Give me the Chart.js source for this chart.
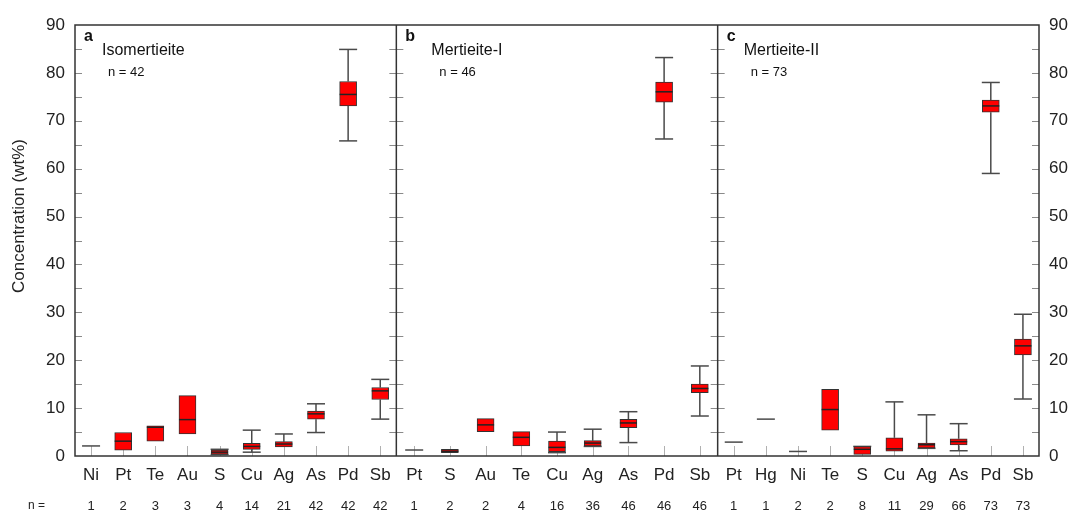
<!DOCTYPE html>
<html>
<head>
<meta charset="utf-8">
<script src="https://cdn.jsdelivr.net/npm/chart.js@4/dist/chart.umd.min.js"></script>
<style>
  html, body { margin: 0; background: #fff; }
  #wrap { width: 1073px; height: 512px; }
</style>
</head>
<body>
<div id="wrap"><canvas id="chart"></canvas></div>
<script>
// panel a - Isomertieite
var catsA = ['Ni', 'Pt', 'Te', 'Au', 'S', 'Cu', 'Ag', 'As', 'Pd', 'Sb'];
var nA    = [1, 2, 3, 3, 4, 14, 21, 42, 42, 42];
var minA  = [2.1, 1.2, 3.1, 4.6, 0.3, 0.8, 1.9, 4.9, 65.8, 7.7];
var q1A   = [2.1, 1.2, 3.1, 4.6, 0.4, 1.4, 1.9, 7.7, 73.1, 11.8];
var medA  = [2.1, 3.1, 6.0, 7.6, 0.8, 2.0, 2.5, 8.8, 75.5, 13.6];
var q3A   = [2.1, 4.9, 6.3, 12.6, 1.25, 2.65, 3.0, 9.4, 78.2, 14.3];
var maxA  = [2.1, 4.9, 6.3, 12.6, 1.4, 5.4, 4.6, 10.9, 84.9, 16.0];

// panel b - Mertieite-I
var catsB = ['Pt', 'S', 'Au', 'Te', 'Cu', 'Ag', 'As', 'Pd', 'Sb'];
var nB    = [1, 2, 2, 4, 16, 36, 46, 46, 46];
var minB  = [1.25, 0.7, 5.1, 2.1, 0.7, 2.0, 2.8, 66.2, 8.35];
var q1B   = [1.25, 0.7, 5.1, 2.1, 0.9, 2.1, 5.9, 73.9, 13.2];
var medB  = [1.25, 1.0, 6.5, 3.9, 1.8, 2.7, 6.9, 76.05, 14.1];
var q3B   = [1.25, 1.4, 7.8, 5.1, 3.1, 3.2, 7.65, 78.1, 15.0];
var maxB  = [1.25, 1.4, 7.8, 5.1, 5.0, 5.6, 9.25, 83.2, 18.8];

// panel c - Mertieite-II
var catsC = ['Pt', 'Hg', 'Ni', 'Te', 'S', 'Cu', 'Ag', 'As', 'Pd', 'Sb'];
var nC    = [1, 1, 2, 2, 8, 11, 29, 66, 73, 73];
var minC  = [2.9, 7.7, 0.95, 5.4, 0.35, 1.0, 1.6, 1.1, 59.0, 11.9];
var q1C   = [2.9, 7.7, 0.95, 5.4, 0.35, 1.0, 1.7, 2.3, 71.8, 21.1];
var medC  = [2.9, 7.7, 0.95, 9.7, 1.4, 1.5, 2.35, 3.0, 73.1, 23.0];
var q3C   = [2.9, 7.7, 0.95, 13.9, 1.95, 3.8, 2.7, 3.6, 74.3, 24.4];
var maxC  = [2.9, 7.7, 0.95, 13.9, 2.0, 11.3, 8.6, 6.75, 78.0, 29.6];

var panelLetters = ['a', 'b', 'c'];
var panelNames = ['Isomertieite', 'Mertieite-I', 'Mertieite-II'];
var panelTotals = [42, 46, 73];
var yTicks = [0, 10, 20, 30, 40, 50, 60, 70, 80, 90];

var panels = [
  {cats: catsA, n: nA, min: minA, q1: q1A, med: medA, q3: q3A, max: maxA},
  {cats: catsB, n: nB, min: minB, q1: q1B, med: medB, q3: q3B, max: maxB},
  {cats: catsC, n: nC, min: minC, q1: q1C, med: medC, q3: q3C, max: maxC}
];

// each panel spans one unit of the x axis
var stats = [];
panels.forEach(function(p, pi) {
  p.cats.forEach(function(c, i) {
    stats.push({
      x: pi + (i + 0.5) / p.cats.length,
      cat: c, n: p.n[i],
      min: p.min[i], q1: p.q1[i], med: p.med[i], q3: p.q3[i], max: p.max[i]
    });
  });
});
var xPos = stats.map(function(s) { return s.x; });

var boxData = stats.filter(function(s) { return s.q3 > s.q1; })
  .map(function(s) { return {x: s.x, y: [s.q1, s.q3]}; });

var FONT = "'Liberation Sans', Arial, sans-serif";
Chart.defaults.font.family = FONT;
Chart.defaults.color = '#222';

function hline(ctx, x1, x2, y) {
  ctx.beginPath(); ctx.moveTo(x1, y); ctx.lineTo(x2, y); ctx.stroke();
}
function vline(ctx, x, y1, y2) {
  ctx.beginPath(); ctx.moveTo(x, y1); ctx.lineTo(x, y2); ctx.stroke();
}

var boxExtras = {
  id: 'boxExtras',
  beforeDatasetsDraw: function(chart) {
    var ctx = chart.ctx, a = chart.chartArea;
    var x = chart.scales.x, y = chart.scales.y;
    ctx.save();
    // minor ticks every 5 on the frame and the panel dividers
    ctx.strokeStyle = '#8a8a8a';
    ctx.lineWidth = 1;
    for (var v = 5; v < 90; v += 5) {
      var py = Math.round(y.getPixelForValue(v)) + 0.5;
      hline(ctx, a.left, a.left + 7, py);
      hline(ctx, a.right - 7, a.right, py);
      [1, 2].forEach(function(d) {
        var px = x.getPixelForValue(d);
        hline(ctx, px - 7, px + 7, py);
      });
    }
    // category ticks
    ctx.strokeStyle = '#b0b0b0';
    stats.forEach(function(s) {
      var px = Math.round(x.getPixelForValue(s.x)) + 0.5;
      vline(ctx, px, a.bottom, a.bottom - 10);
    });
    // whiskers
    ctx.strokeStyle = '#4a4a4a';
    ctx.lineWidth = 1.5;
    stats.forEach(function(s) {
      var px = x.getPixelForValue(s.x);
      if (s.max > s.q3) {
        vline(ctx, px, y.getPixelForValue(s.q3), y.getPixelForValue(s.max));
        hline(ctx, px - 9, px + 9, y.getPixelForValue(s.max));
      }
      if (s.min < s.q1) {
        vline(ctx, px, y.getPixelForValue(s.q1), y.getPixelForValue(s.min));
        hline(ctx, px - 9, px + 9, y.getPixelForValue(s.min));
      }
      if (s.min === s.max) {
        hline(ctx, px - 9, px + 9, y.getPixelForValue(s.med));
      }
    });
    ctx.restore();
  },
  afterDatasetsDraw: function(chart) {
    var ctx = chart.ctx, a = chart.chartArea;
    var x = chart.scales.x, y = chart.scales.y;
    ctx.save();
    // medians
    ctx.strokeStyle = '#222';
    ctx.lineWidth = 1.5;
    stats.forEach(function(s) {
      if (s.q3 > s.q1) {
        var px = x.getPixelForValue(s.x);
        hline(ctx, px - 8.5, px + 8.5, y.getPixelForValue(s.med));
      }
    });
    // frame and dividers
    ctx.strokeStyle = '#333';
    ctx.lineWidth = 1.5;
    ctx.strokeRect(a.left, a.top, a.right - a.left, a.bottom - a.top);
    [1, 2].forEach(function(d) {
      vline(ctx, x.getPixelForValue(d), a.top, a.bottom);
    });
    // panel labels
    var titleOff = [27, 35, 26], nOff = [33, 43, 33];
    ctx.fillStyle = '#111';
    ctx.textBaseline = 'middle';
    ctx.textAlign = 'left';
    panelLetters.forEach(function(l, i) {
      var left = x.getPixelForValue(i);
      ctx.font = 'bold 16px ' + FONT;
      ctx.fillText(l, left + 9, 37);
      ctx.font = '16px ' + FONT;
      ctx.fillText(panelNames[i], left + titleOff[i], 51);
      ctx.font = '13px ' + FONT;
      ctx.fillText('n = ' + panelTotals[i], left + nOff[i], 72);
    });
    // y title and the n row label
    ctx.fillStyle = '#222';
    ctx.font = '17px ' + FONT;
    ctx.save();
    ctx.translate(19, 216);
    ctx.rotate(-Math.PI / 2);
    ctx.textAlign = 'center';
    ctx.fillText('Concentration (wt%)', 0, 0);
    ctx.restore();
    ctx.font = '12px ' + FONT;
    ctx.textAlign = 'left';
    ctx.fillText('n =', 28, 506);
    ctx.restore();
  }
};

function setXTicks(scale) {
  scale.ticks = xPos.map(function(v) { return {value: v}; });
}

new Chart(document.getElementById('chart'), {
  type: 'bar',
  data: {
    datasets: [{
      data: boxData,
      backgroundColor: '#ff0000',
      borderColor: '#333',
      borderWidth: 1,
      borderSkipped: false,
      barThickness: 17,
      grouped: false
    }]
  },
  options: {
    responsive: true,
    maintainAspectRatio: false,
    animation: false,
    layout: {padding: {top: 25, left: 0, right: 0, bottom: 0}},
    plugins: {legend: {display: false}, tooltip: {enabled: false}},
    scales: {
      x: {
        type: 'linear', position: 'bottom', min: 0, max: 3, offset: false, weight: 0,
        grid: {display: false, drawTicks: false},
        border: {display: false},
        afterBuildTicks: setXTicks,
        afterFit: function(s) { s.height = 30; },
        ticks: {
          autoSkip: false, maxRotation: 0, padding: 9,
          font: {size: 17}, color: '#222',
          callback: function(v, i) { return stats[i] ? stats[i].cat : ''; }
        }
      },
      x2: {
        type: 'linear', position: 'bottom', min: 0, max: 3, offset: false, weight: 1,
        grid: {display: false, drawTicks: false},
        border: {display: false},
        afterBuildTicks: setXTicks,
        afterFit: function(s) { s.height = 26; },
        ticks: {
          autoSkip: false, maxRotation: 0, padding: 13,
          font: {size: 13}, color: '#222',
          callback: function(v, i) { return stats[i] ? String(stats[i].n) : ''; }
        }
      },
      y: {
        position: 'left', min: 0, max: 90,
        grid: {display: false, drawTicks: false},
        border: {display: false},
        afterBuildTicks: function(s) { s.ticks = yTicks.map(function(v) { return {value: v}; }); },
        afterFit: function(s) { s.width = 75; },
        ticks: {padding: 10, font: {size: 17}, color: '#222'}
      },
      y2: {
        position: 'right', min: 0, max: 90,
        grid: {display: false, drawTicks: false},
        border: {display: false},
        afterBuildTicks: function(s) { s.ticks = yTicks.map(function(v) { return {value: v}; }); },
        afterFit: function(s) { s.width = 34; },
        ticks: {padding: 10, font: {size: 17}, color: '#222'}
      }
    }
  },
  plugins: [boxExtras]
});
</script>
</body>
</html>
